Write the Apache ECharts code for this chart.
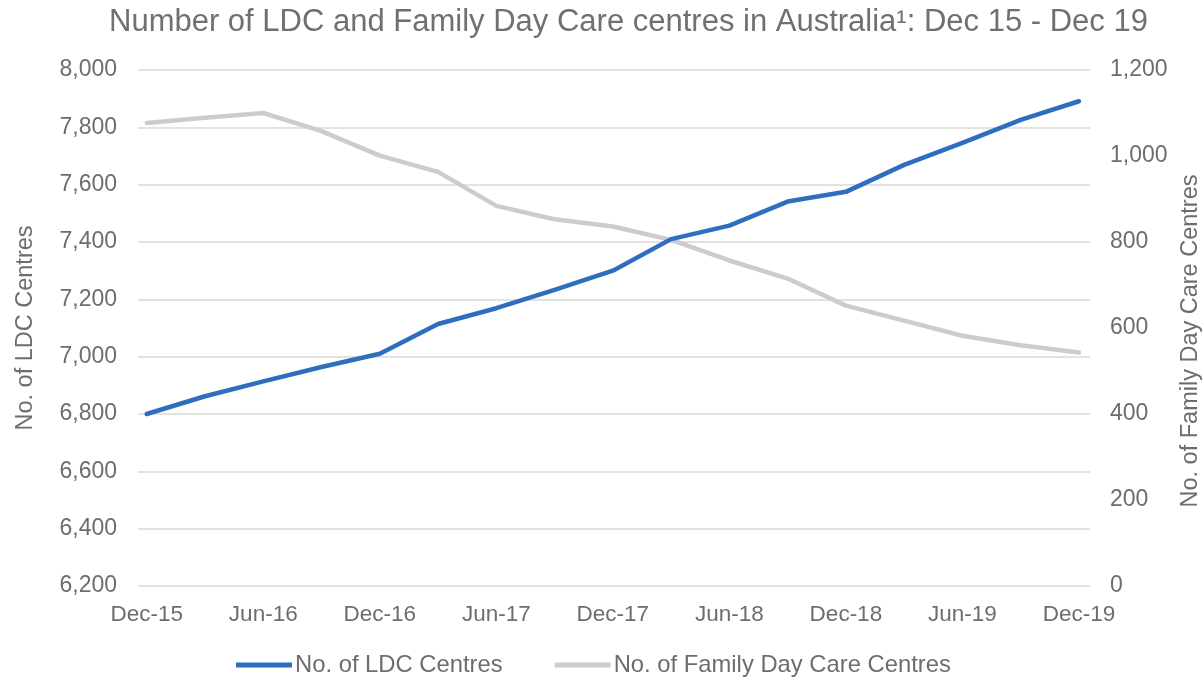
<!DOCTYPE html>
<html>
<head>
<meta charset="utf-8">
<script src="https://cdn.jsdelivr.net/npm/echarts@6/dist/echarts.min.js"></script>
<style>
  html, body { margin: 0; padding: 0; background: #fff; }
  #chart { width: 1202px; height: 679px; }
</style>
</head>
<body>
<div id="chart"></div>
<script>
// Quarterly periods, Dec 2015 – Dec 2019
const categories = ['Dec-15', 'Mar-16', 'Jun-16', 'Sep-16', 'Dec-16', 'Mar-17', 'Jun-17', 'Sep-17',
  'Dec-17', 'Mar-18', 'Jun-18', 'Sep-18', 'Dec-18', 'Mar-19', 'Jun-19', 'Sep-19', 'Dec-19'];
// Indices of the periods that carry an axis label (every half year)
const labelledPeriods = [0, 2, 4, 6, 8, 10, 12, 14, 16];

// Long Day Care centres (left axis)
const ldcCentres = [6800, 6862, 6914, 6964, 7010, 7114, 7169, 7233,
  7300, 7410, 7457, 7541, 7575, 7669, 7746, 7826, 7891];
// Family Day Care centres (right axis)
const fdcCentres = [1077, 1089, 1100, 1058, 1001, 963, 884, 853,
  836, 805, 757, 715, 652, 617, 582, 560, 543];

const leftTicks = { min: 6200, max: 8000, interval: 200 };
const rightTicks = { min: 0, max: 1200, interval: 200 };

const FONT = '"Liberation Sans", Arial, sans-serif';
const TEXT = '#6D6D6F';

const chart = echarts.init(document.getElementById('chart'), null, { renderer: 'canvas' });

const pairs = vals => vals.map((v, i) => [i, v]);
const fmt = v => v.toLocaleString('en-US');

chart.setOption({
  animation: false,
  textStyle: { fontFamily: FONT },
  title: {
    text: 'Number of LDC and Family Day Care centres in Australia\u00b9: Dec 15 - Dec 19',
    left: 104,
    top: 2,
    textStyle: { fontFamily: FONT, fontSize: 31, fontWeight: 'normal', color: '#707070' }
  },
  legend: {
    top: 648,
    left: 231,
    icon: 'rect',
    itemWidth: 56,
    itemHeight: 5,
    itemGap: 52,
    textStyle: { fontFamily: FONT, fontSize: 23.8, color: TEXT, padding: [0, 0, 0, -2] },
    data: ['No. of LDC Centres', 'No. of Family Day Care Centres']
  },
  grid: { left: 138, right: 112, top: 70, bottom: 93, outerBoundsMode: 'none', containLabel: false },
  xAxis: {
    type: 'value',
    min: -0.15,
    max: 16.19,
    axisLine: { show: false },
    axisTick: { show: false },
    splitLine: { show: false },
    axisLabel: {
      customValues: labelledPeriods,
      formatter: v => categories[Math.round(v)],
      margin: 17,
      fontFamily: FONT,
      fontSize: 22.5,
      color: TEXT
    }
  },
  yAxis: [
    {
      type: 'value',
      position: 'left',
      min: leftTicks.min,
      max: leftTicks.max,
      interval: leftTicks.interval,
      name: 'No. of LDC Centres',
      nameLocation: 'middle',
      nameRotate: 90,
      nameGap: 100,
      nameTextStyle: { fontFamily: FONT, fontSize: 23.5, color: TEXT, padding: [0, 0, 0, 0] },
      axisLine: { show: false },
      axisTick: { show: false },
      axisLabel: { margin: 21, fontFamily: FONT, fontSize: 23, color: TEXT, formatter: fmt },
      splitLine: { lineStyle: { color: '#D9D9D9', width: 1.5 } }
    },
    {
      type: 'value',
      position: 'right',
      min: rightTicks.min,
      max: rightTicks.max,
      interval: rightTicks.interval,
      name: 'No. of Family Day Care Centres',
      nameLocation: 'middle',
      nameRotate: 90,
      nameGap: 88,
      nameTextStyle: { fontFamily: FONT, fontSize: 23.5, color: TEXT, padding: [0, 26, 0, 0] },
      axisLine: { show: false },
      axisTick: { show: false },
      axisLabel: { margin: 20, fontFamily: FONT, fontSize: 23, color: TEXT, formatter: fmt },
      splitLine: { show: false }
    }
  ],
  series: [
    {
      name: 'No. of Family Day Care Centres',
      type: 'line',
      yAxisIndex: 1,
      data: pairs(fdcCentres),
      showSymbol: false,
      symbol: 'none',
      color: '#CCCCCC',
      lineStyle: { color: '#CCCCCC', width: 4.5, cap: 'round', join: 'round' },
      z: 2
    },
    {
      name: 'No. of LDC Centres',
      type: 'line',
      yAxisIndex: 0,
      data: pairs(ldcCentres),
      showSymbol: false,
      symbol: 'none',
      color: '#2F6EBF',
      lineStyle: { color: '#2F6EBF', width: 4.5, cap: 'round', join: 'round' },
      z: 3
    }
  ]
});
</script>
</body>
</html>
